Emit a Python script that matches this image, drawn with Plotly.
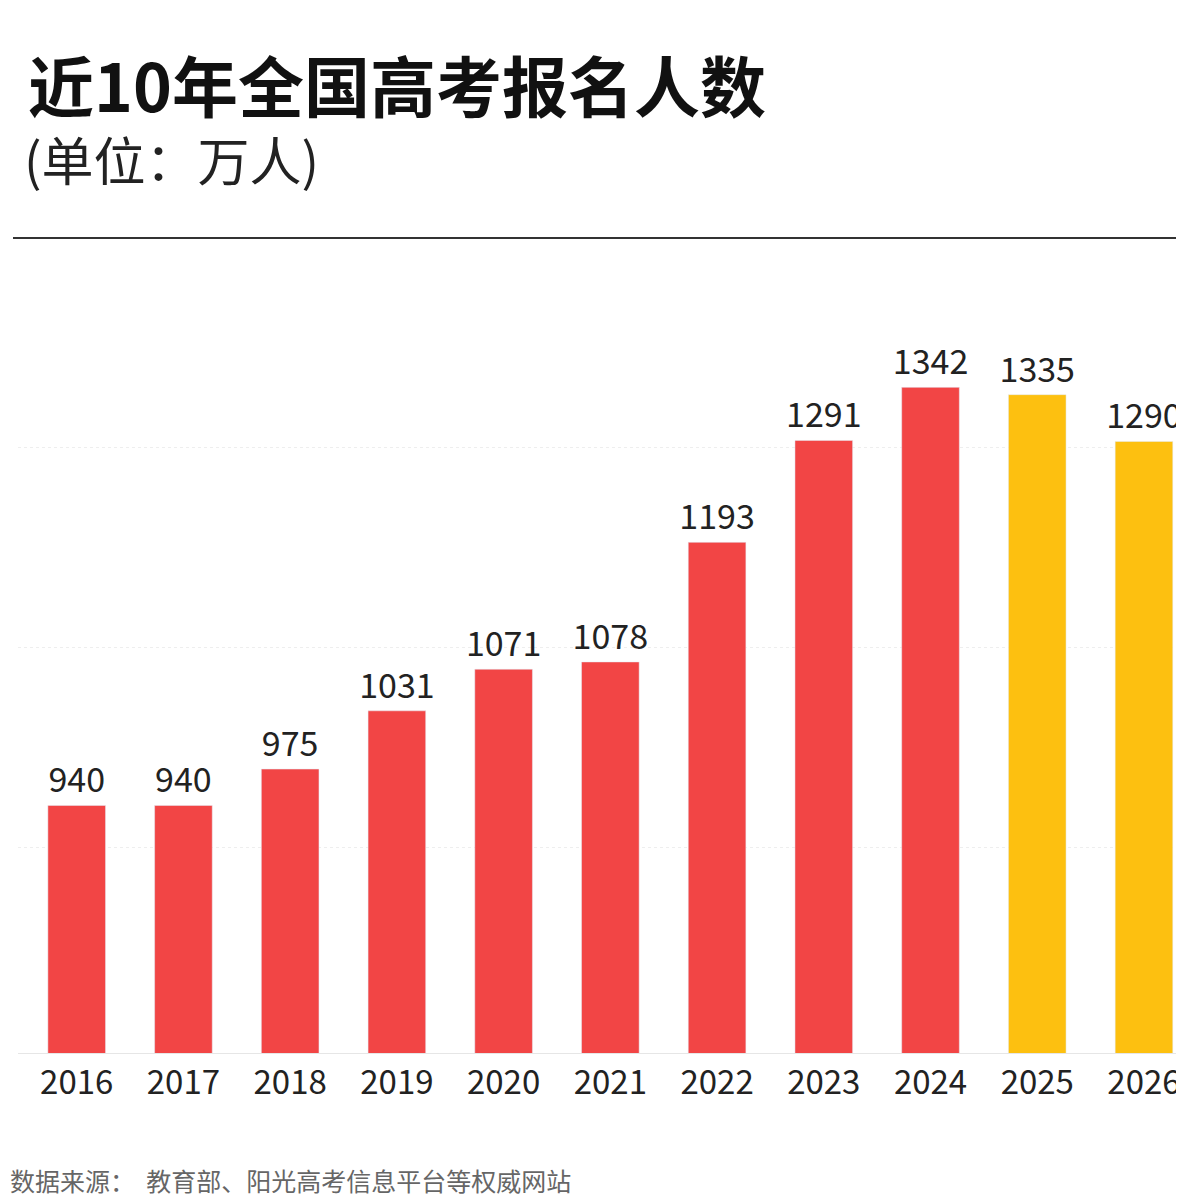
import plotly.graph_objects as go

years = ["2016", "2017", "2018", "2019", "2020", "2021", "2022", "2023", "2024", "2025", "2026"]
applicants = [940, 940, 975, 1031, 1071, 1078, 1193, 1291, 1342, 1335, 1290]
bar_colors = ["#F24545"] * 9 + ["#FDC010"] * 2

L, T, B = 10, 240, 152
PW, PH = 1184 - L, 1197 - T - B

fig = go.Figure(go.Bar(
    x=years, y=applicants, marker_color=bar_colors, width=0.54,
    text=[str(v) for v in applicants], textposition="outside", textangle=0,
    textfont=dict(size=34, color="#222"), cliponaxis=False,
))


def px_ann(text, x, y, size, color):
    return dict(text=text, xref="paper", yref="paper", x=(x - L) / PW, y=(1197 - B - y) / PH,
                showarrow=False, xanchor="left", yanchor="middle",
                font=dict(size=size, color=color))


fig.update_layout(
    width=1184, height=1197, paper_bgcolor="white", plot_bgcolor="white",
    margin=dict(l=L, r=0, t=T, b=B), showlegend=False,
    uniformtext=dict(minsize=34, mode="show"),
    font=dict(family="Noto Sans CJK SC, Noto Sans, sans-serif"),
    xaxis=dict(range=[-0.55, 10.45], tickfont=dict(size=33, color="#222"),
               showline=True, linecolor="#e6e6e6", ticks=""),
    yaxis=dict(range=[702, 1476], showticklabels=False, zeroline=False,
               tickvals=[900, 1092, 1284], gridcolor="#eeeeee", griddash="dot"),
    annotations=[
        px_ann("<b>近10年全国高考报名人数</b>", 18, 75, 66, "#111"),
        px_ann("(单位：万人)", 14, 150, 52, "#222"),
        px_ann("数据来源：  教育部、阳光高考信息平台等权威网站", 0, 1172, 25, "#666"),
    ],
    shapes=[dict(type="line", xref="paper", yref="paper", x0=-5 / PW, x1=1,
                 y0=(1197 - B - 230) / PH, y1=(1197 - B - 230) / PH,
                 line=dict(color="#333", width=2))],
)

fig.write_html("out.html")
